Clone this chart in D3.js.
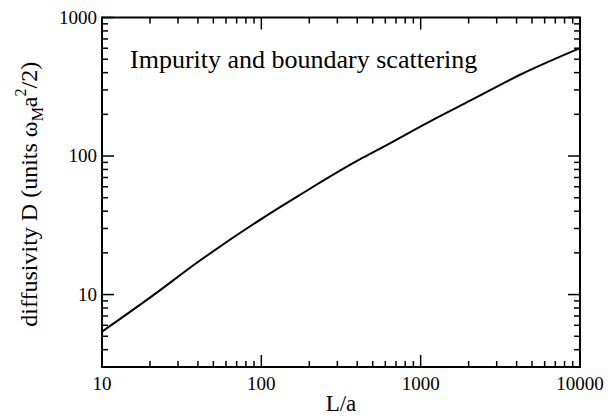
<!DOCTYPE html>
<html>
<head>
<meta charset="utf-8">
<script src="https://cdn.jsdelivr.net/npm/d3@7"></script>
</head>
<body style="margin:0;background:#fff">
<svg id="chart" width="611" height="418" style="display:block"></svg>
<script>
// values
const lengths = [10, 20, 41.2, 131, 175, 417, 556, 1146, 2042, 4207, 10000];
const diffusivity = [5.4, 9.5, 17.6, 42.8, 52.5, 94.8, 113, 178, 251, 386, 601];
const xTicks = [10, 100, 1000, 10000];
const yTicks = [10, 100, 1000];
const label = 'Impurity and boundary scattering';

const w = 611;
const h = 418;
const margin = { top: 17.5, right: 31, bottom: 51, left: 102 };
const iw = w - margin.left - margin.right;
const ih = h - margin.top - margin.bottom;
const serif = 'Liberation Serif, DejaVu Serif, serif';

const svg = d3.select('#chart');
const g = svg.append('g')
  .attr('transform', `translate(${margin.left}, ${margin.top})`);

const x = d3.scaleLog().domain([10, 10000]).range([0, iw]);
const y = d3.scaleLog().domain([3, 1000]).range([ih, 0]);

// minor ticks 2..9 in each decade
const minorX = [];
for (let d = 10; d < 10000; d *= 10) {
  for (let k = 2; k <= 9; k++) minorX.push(d * k);
}
const minorY = [];
for (let d = 1; d < 1000; d *= 10) {
  for (let k = 2; k <= 9; k++) {
    if (d * k >= 3) minorY.push(d * k);
  }
}

const major = 12;
const minor = 6;
const ticks = g.append('g').attr('stroke', '#000').attr('stroke-width', 1.5);

// bottom and top ticks, pointing inward
[[xTicks, major], [minorX, minor]].forEach(([vals, len]) => {
  vals.forEach((v) => {
    ticks.append('line').attr('x1', x(v)).attr('x2', x(v)).attr('y1', ih).attr('y2', ih - len);
    ticks.append('line').attr('x1', x(v)).attr('x2', x(v)).attr('y1', 0).attr('y2', len);
  });
});

// left and right ticks
[[yTicks, major], [minorY, minor]].forEach(([vals, len]) => {
  vals.forEach((v) => {
    ticks.append('line').attr('y1', y(v)).attr('y2', y(v)).attr('x1', 0).attr('x2', len);
    ticks.append('line').attr('y1', y(v)).attr('y2', y(v)).attr('x1', iw).attr('x2', iw - len);
  });
});

// frame
g.append('rect')
  .attr('width', iw)
  .attr('height', ih)
  .attr('fill', 'none')
  .attr('stroke', '#000')
  .attr('stroke-width', 2);

// tick labels
g.append('g').selectAll('text')
  .data(xTicks)
  .enter()
  .append('text')
    .style('font-family', serif)
    .attr('x', (d) => x(d))
    .attr('y', ih + 23)
    .attr('text-anchor', 'middle')
    .attr('font-size', 19)
    .text((d) => d);

g.append('g').selectAll('text')
  .data(yTicks)
  .enter()
  .append('text')
    .style('font-family', serif)
    .attr('x', -5)
    .attr('y', (d) => y(d) + 6)
    .attr('text-anchor', 'end')
    .attr('font-size', 19)
    .text((d) => d);

// axis titles
svg.append('text')
  .style('font-family', serif)
  .attr('x', margin.left + iw / 2)
  .attr('y', 411)
  .attr('text-anchor', 'middle')
  .attr('font-size', 23)
  .text('L/a');

const yl = svg.append('text')
  .style('font-family', serif)
  .attr('transform', `translate(37, ${margin.top + ih / 2 + 2}) rotate(-90)`)
  .attr('text-anchor', 'middle')
  .attr('font-size', 24);
yl.append('tspan').text('diffusivity D (units ω');
yl.append('tspan').attr('dy', 6).attr('font-size', 16).text('M');
yl.append('tspan').attr('dy', -6).text('a');
yl.append('tspan').attr('dy', -11).attr('font-size', 16).text('2');
yl.append('tspan').attr('dy', 11).text('/2)');

// annotation
g.append('text')
  .style('font-family', serif)
  .attr('x', 130 - margin.left)
  .attr('y', 68 - margin.top)
  .attr('font-size', 26)
  .text(label);

// curve
const pts = lengths.map((l, i) => [l, diffusivity[i]]);
g.append('path')
  .datum(pts)
  .attr('fill', 'none')
  .attr('stroke', '#000')
  .attr('stroke-width', 2)
  .attr('d', d3.line()
    .x((d) => x(d[0]))
    .y((d) => y(d[1]))
    .curve(d3.curveMonotoneX));
</script>
</body>
</html>
